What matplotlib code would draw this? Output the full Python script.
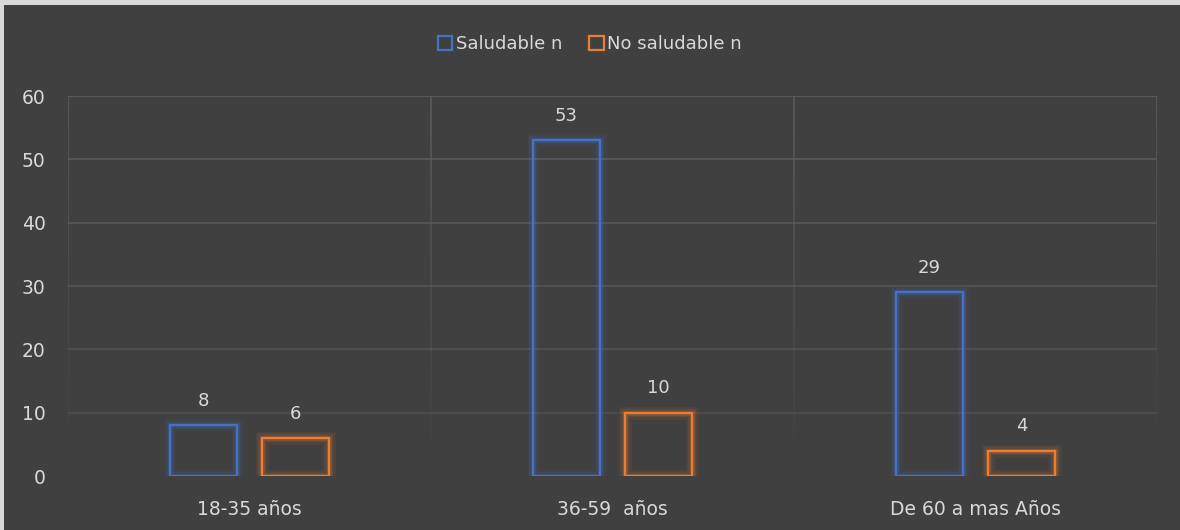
import numpy as np
import matplotlib.pyplot as plt
from matplotlib.collections import LineCollection
from matplotlib.patches import Rectangle

categories = ['18-35 años', '36-59  años', 'De 60 a mas Años']
saludable = [8, 53, 29]
no_saludable = [6, 10, 4]
series_names = ['Saludable n', 'No saludable n']
yticks = [0, 10, 20, 30, 40, 50, 60]

bg = '#404040'
txt = '#d9d9d9'
blue = '#4472c4'
orange = '#ed7d31'

fig = plt.figure(figsize=(11.8, 5.3), dpi=100, facecolor=bg)
# light strip on the top and left edges
fig.patches.append(Rectangle((0, 1 - 5 / 530), 1, 5 / 530, transform=fig.transFigure,
                             facecolor='#d9d9d9', edgecolor='none'))
fig.patches.append(Rectangle((0, 0), 4 / 1180, 1, transform=fig.transFigure,
                             facecolor='#d9d9d9', edgecolor='none'))

ax = fig.add_axes([68 / 1180, 54 / 530, (1157 - 68) / 1180, (476 - 96) / 530])
ax.set_facecolor(bg)
ax.set_xlim(0, 3)
ax.set_ylim(0, 60)

# horizontal gridlines, fainter towards the bottom
for t in yticks[1:]:
    ax.axhline(t, color='#5e5e5e', lw=1.2, alpha=0.35 + 0.65 * t / 60, zorder=1)

# vertical gridlines fading towards the bottom
ys = np.linspace(60, 0, 60)
for xv in range(4):
    segs = [[(xv, ys[k]), (xv, ys[k + 1])] for k in range(len(ys) - 1)]
    alphas = np.linspace(0.9, 0.0, len(segs))
    cols = [(0.37, 0.37, 0.37, a) for a in alphas]
    ax.add_collection(LineCollection(segs, colors=cols, lw=1.2, zorder=1))

w = 0.185
off = 0.127
x = np.arange(len(categories)) + 0.5
handles = []
for vals, dx, col, name in [(saludable, -off, blue, series_names[0]),
                             (no_saludable, off, orange, series_names[1])]:
    # glow
    for lw, a in [(9, 0.08), (6, 0.12), (3.5, 0.2)]:
        ax.bar(x + dx, vals, w, facecolor='none', edgecolor=col, lw=lw, alpha=a, zorder=2)
    b = ax.bar(x + dx, vals, w, facecolor='none', edgecolor=col, lw=1.6, zorder=3, label=name)
    handles.append(b)
    for xi, v in zip(x + dx, vals):
        ax.text(xi, v + 2.4, str(v), ha='center', va='bottom', color=txt, fontsize=13)

ax.set_yticks(yticks)
ax.set_xticks(x)
ax.set_xticklabels(categories)
ax.tick_params(colors=txt, labelsize=13.5, length=0)
ax.tick_params(axis='y', pad=16)
ax.tick_params(axis='x', pad=17)
for s in ax.spines.values():
    s.set_visible(False)

fig.legend(handles=handles, labels=series_names, loc='center',
           bbox_to_anchor=(0.5, 1 - 44 / 530), ncol=2, frameon=False,
           fontsize=13, labelcolor=txt, handlelength=0.8, handleheight=0.8,
           handletextpad=0.2, columnspacing=1.5)

fig.savefig('out.png', dpi=100, facecolor=fig.get_facecolor())
